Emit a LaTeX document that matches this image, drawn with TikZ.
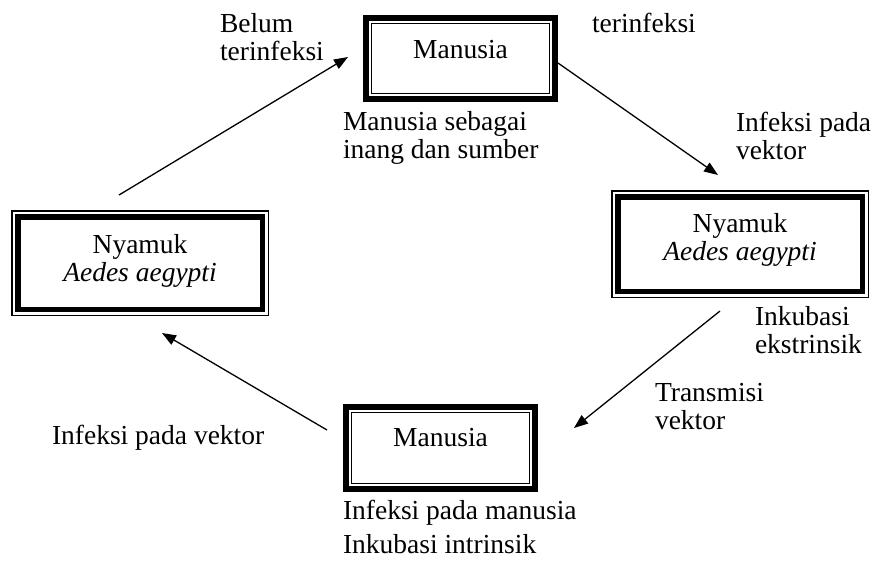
\documentclass[tikz,border=0pt]{standalone}
\usepackage{fontspec}
\setmainfont{Liberation Serif}
\usetikzlibrary{arrows.meta}
\begin{document}
\begin{tikzpicture}[x=1pt,y=-1pt,
  txt/.style={inner sep=0pt, outer sep=0pt, font=\fontsize{27.5}{28.5}\selectfont},
  ttbox/.style={draw, line width=6pt, inner sep=0pt, outer sep=0pt},
  tnbox/.style={draw, line width=1.5pt, inner sep=0pt, outer sep=0pt},
  thinln/.style={line width=1.3pt},
  thickln/.style={line width=5.5pt},
  arr/.style={line width=1.3pt, -{Triangle[length=14pt,width=10.5pt]}}]
\useasboundingbox (0,0) rectangle (874,560);

% boxes
\node[ttbox, minimum width=189pt, minimum height=81pt] (m1) at (460.5,58.5) {};
\draw[thinln] ([shift={(5.2,5.2)}]m1.north west) rectangle ([shift={(-5.2,-5.2)}]m1.south east);
\node[ttbox, minimum width=189pt, minimum height=82pt] (m2) at (440.5,448) {};
\draw[thinln] ([shift={(5.2,5.2)}]m2.north west) rectangle ([shift={(-5.2,-5.2)}]m2.south east);
\node[tnbox, minimum width=256.5pt, minimum height=106.5pt] (n1) at (740,244) {};
\draw[thickln] ([shift={(6,6)}]n1.north west) rectangle ([shift={(-6,-6)}]n1.south east);
\node[tnbox, minimum width=256.5pt, minimum height=104.5pt] (n2) at (140,263) {};
\draw[thickln] ([shift={(6,6)}]n2.north west) rectangle ([shift={(-6,-6)}]n2.south east);

% box texts
\node[txt, anchor=base] (m1t) at (460.5,58) {Manusia};
\node[txt, anchor=base] (m2t) at (440.5,446) {Manusia};
\node[txt, anchor=base] (n1t) at (740,232) {\begin{tabular}[t]{@{}c@{}}Nyamuk\\ \itshape Aedes aegypti\end{tabular}};
\node[txt, anchor=base] (n2t) at (140,253) {\begin{tabular}[t]{@{}c@{}}Nyamuk\\ \itshape Aedes aegypti\end{tabular}};

% labels
\node[txt, anchor=base west] (l1) at (220,32) {\begin{tabular}[t]{@{}l@{}}Belum\\ terinfeksi\end{tabular}};
\node[txt, anchor=base west] (l2) at (592,32) {terinfeksi};
\node[txt, anchor=base west] (l3) at (343,130) {\begin{tabular}[t]{@{}l@{}}Manusia sebagai\\ inang dan sumber\end{tabular}};
\node[txt, anchor=base west] (l4) at (736,131) {\begin{tabular}[t]{@{}l@{}}Infeksi pada\\ vektor\end{tabular}};
\node[txt, anchor=base west] (l5) at (755,325) {\begin{tabular}[t]{@{}l@{}}Inkubasi\\ ekstrinsik\end{tabular}};
\node[txt, anchor=base west] (l6) at (655,401) {\begin{tabular}[t]{@{}l@{}}Transmisi\\ vektor\end{tabular}};
\node[txt, anchor=base west] (l7) at (52,444) {Infeksi pada vektor};
\node[txt, anchor=base west] (l8) at (343,519) {\begin{tabular}[t]{@{}l@{}}Infeksi pada manusia\\[6pt] Inkubasi intrinsik\end{tabular}};

% connector ends
\coordinate (a1s) at ([shift={(-21,-15.75)}]n2.north);
\coordinate (a1e) at ([shift={(-18,-1.5)}]m1.west);
\coordinate (a2s) at ([shift={(3,4.5)}]m1.east);
\coordinate (a2e) at ([shift={(-22,-15.75)}]n1.north);
\coordinate (a3s) at ([shift={(-20,13.75)}]n1.south);
\coordinate (a3e) at ([shift={(39,-20)}]m2.east);
\coordinate (a4s) at ([shift={(-19,-18)}]m2.west);
\coordinate (a4e) at ([shift={(22,17.75)}]n2.south);

\draw[arr] (a1s) -- (a1e);
\draw[arr] (a2s) -- (a2e);
\draw[arr] (a3s) -- (a3e);
\draw[arr] (a4s) -- (a4e);
\end{tikzpicture}
\end{document}
